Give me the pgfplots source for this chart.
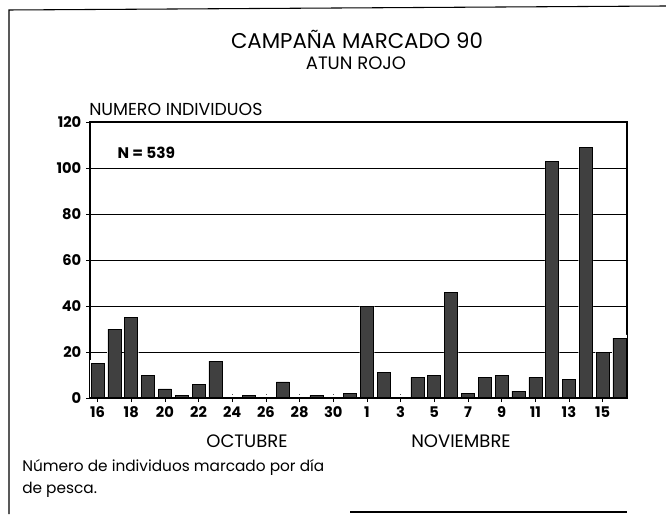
\documentclass[border=0pt]{standalone}
\usepackage{pgfplots}
\usepackage{pgfplotstable}
\pgfplotsset{compat=1.18}
\usepackage{fontspec}
\setmainfont{Poppins}
\pgfplotstableread{
x n
0 15
1 30
2 35
3 10
4 4
5 1
6 6
7 16
8 0
9 1
10 0
11 7
12 0
13 1
14 0
15 2
16 40
17 11
18 0
19 9
20 10
21 46
22 2
23 9
24 10
25 3
26 9
27 103
28 8
29 109
30 20
31 26
}\datatable
\begin{document}
\begin{tikzpicture}
\begin{scope}[x=0.75pt,y=0.75pt]
\path[use as bounding box] (0,0) rectangle (666,514);
\draw[line width=0.8pt] (9,0) -- (9,504) -- (666,508);
\draw[line width=0.8pt] (350,2) -- (627,2);
\node[font=\fontsize{16}{18}\selectfont] at (357,475) {CAMPAÑA MARCADO 90};
\node[font=\fontsize{13.5}{15}\selectfont] at (356,451) {ATUN ROJO};
\node[font=\fontsize{13}{15}\selectfont, anchor=west, inner sep=0pt] at (89,405) {NUMERO INDIVIDUOS};
\node[font=\fontsize{13.5}{15}\selectfont, anchor=north] at (247,84) {OCTUBRE};
\node[font=\fontsize{13.5}{15}\selectfont, anchor=north] at (461,84) {NOVIEMBRE};
\node[font=\fontsize{11.5}{13}\selectfont, anchor=west, inner sep=0pt] at (22,47) {Número de individuos marcado por día};
\node[font=\fontsize{11.5}{13}\selectfont, anchor=west, inner sep=0pt] at (22,24) {de pesca.};
\end{scope}
\begin{axis}[
  at={(67.5pt,87pt)}, anchor=south west, scale only axis,
  width=402.75pt, height=207pt,
  xmin=-0.45, xmax=31.45, ymin=0, ymax=120,
  xtick={0,2,...,30},
  xticklabels={16,18,20,22,24,26,28,30,1,3,5,7,9,11,13,15},
  ytick={0,20,...,120},
  ymajorgrids, grid style={black, line width=0.5pt},
  tick align=center, major tick length=6pt,
  xtick pos=bottom, ytick pos=left,
  axis line style={line width=0.8pt},
  tick style={black, line width=0.6pt},
  tick label style={font=\bfseries\fontsize{11}{12}\selectfont},
  /pgf/number format/assume math mode=true,
  clip=true,
]
\addplot[ybar, bar width=11pt, fill=white, draw=none, forget plot]
  table[x=x, y expr=\thisrow{n}+1.5] {\datatable};
\addplot[ybar, bar width=9.75pt, fill=black!75, draw=black, line width=0.4pt]
  table[x=x, y=n] {\datatable};
\addplot[black, line width=0.8pt] coordinates {(-0.45,0) (31.45,0)};
\node[font=\bfseries\fontsize{11.5}{13}\selectfont] at (axis cs:2.9,106.5) {N = 539};
\end{axis}
\end{tikzpicture}
\end{document}
